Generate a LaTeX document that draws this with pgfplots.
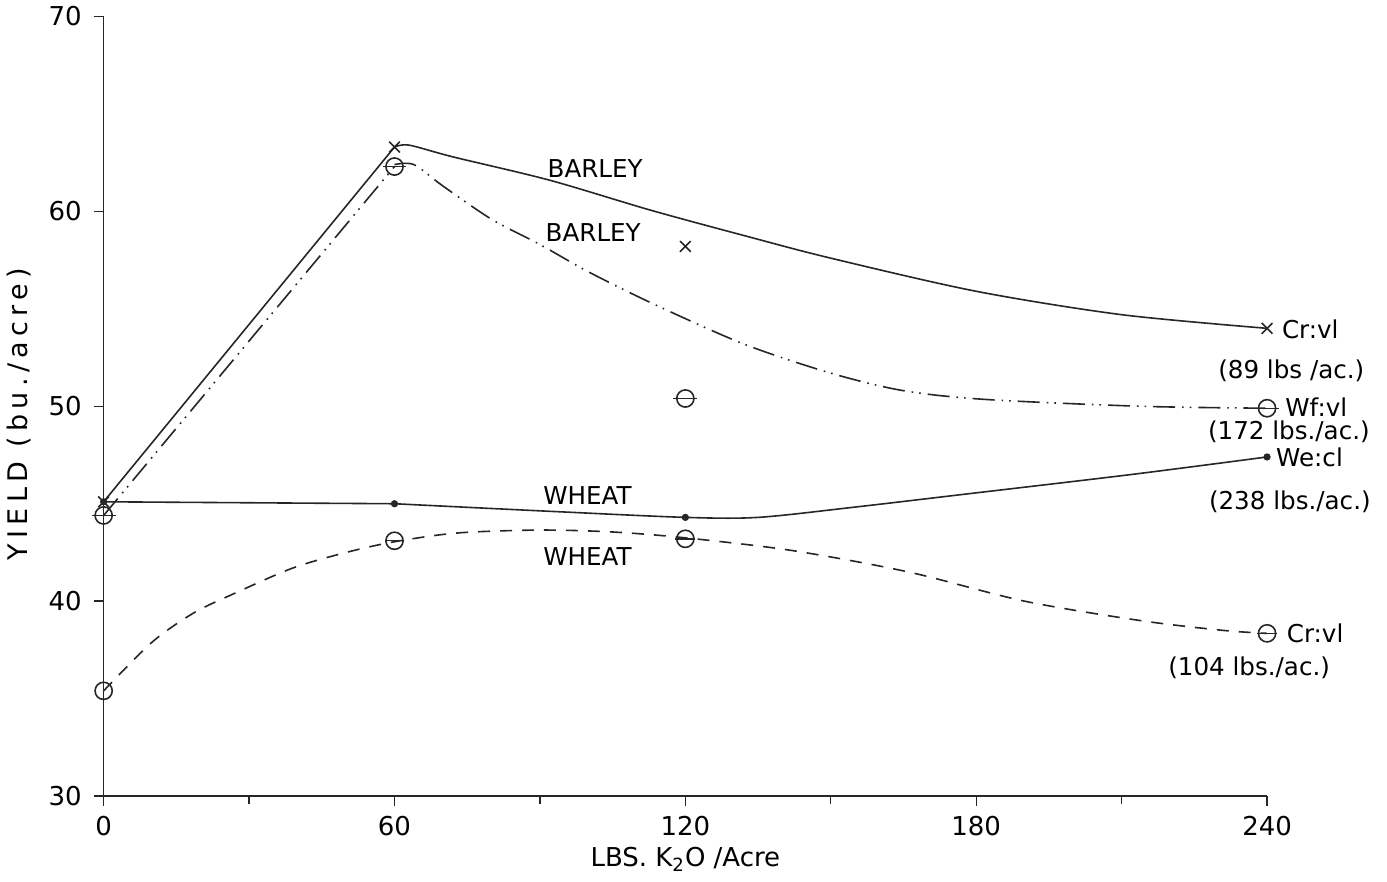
\documentclass[border=0pt]{standalone}
\usepackage{pgfplots}
\pgfplotsset{compat=1.18}
\usepackage{fontspec}
\setmainfont{DejaVu Sans}
\newcommand{\lbl}{\fontsize{12.3}{14}\selectfont}
\begin{document}
\begin{tikzpicture}
\begin{axis}[
  scale only axis, width=582pt, height=390pt,
  xmin=0, xmax=240, ymin=30, ymax=70,
  axis x line*=bottom, axis y line*=left,
  axis line style={black!85, line width=0.8pt},
  xtick={0,60,120,180,240}, minor xtick={30,90,150,210},
  ytick={30,40,50,60,70},
  tick align=outside, major tick length=5pt, minor tick length=4pt,
  every tick/.style={black!85, line width=0.7pt},
  every minor tick/.style={black!85, line width=0.7pt},
  /pgf/number format/assume math mode=true,
  every tick label/.append style={font=\fontsize{13}{15}\selectfont},
  xticklabel style={yshift=-1.5pt},
  yticklabel style={xshift=-2.5pt},
  xlabel={LBS. K\textsubscript{2}O /Acre},
  xlabel style={at={(rel axis cs:0.5,0)}, anchor=center, yshift=-31.5pt, font=\fontsize{13}{15}\selectfont},
  ylabel={\addfontfeatures{LetterSpace=20}YIELD (bu./acre)},
  ylabel style={at={(rel axis cs:0,0.49)}, anchor=center, xshift=0pt, yshift=42.5pt, font=\fontsize{13.5}{15}\selectfont},
  clip=false,
]
\coordinate (O) at (rel axis cs:0,0);
% ---- BARLEY Cr:vl (solid, x marks) ----
\addplot[black!85, line width=0.8pt] coordinates {(0,45.1) (60,63.3)};
\addplot[black!85, line width=0.8pt, smooth, tension=0.5] coordinates {
 (60,63.3) (63,63.4) (72,62.8) (92,61.6) (113,60.05) (133,58.7) (150,57.6) (180,55.9) (210,54.7) (240,54.0)};
\addplot[only marks, mark=x, mark size=3.8pt, black!85, mark options={line width=0.8pt}] coordinates {
 (0,45.1) (60,63.3) (120,58.2) (240,54.0)};
% ---- BARLEY Wf:vl (dash-dot-dot, circles) ----
\addplot[black!85, line width=0.8pt, dash pattern=on 11pt off 3.5pt on 0.8pt off 3pt on 0.8pt off 3.5pt] coordinates {(0,44.4) (60,62.3)};
\addplot[black!85, line width=0.8pt, smooth, tension=0.5, dash pattern=on 11pt off 3.5pt on 0.8pt off 3pt on 0.8pt off 3.5pt] coordinates {
 (60,62.4) (64,62.4) (70,61.3) (80,59.6) (90,58.3) (100,56.9) (113,55.3) (132,53.2) (150,51.7) (165,50.8) (182,50.35) (214,50.0) (240,49.9)};
\addplot[only marks, mark=o, mark size=4.3pt, black!85, mark options={line width=0.8pt}] coordinates {
 (0,44.4) (60,62.3) (120,50.4) (240,49.9)};
\addplot[only marks, mark=-, mark size=6pt, black!85, mark options={line width=0.7pt}] coordinates {
 (0,44.4) (60,62.3) (120,50.4) (240,49.9)};
% ---- WHEAT We:cl (solid, dots) ----
\addplot[black!85, line width=0.8pt] coordinates {(0,45.1) (60,45.0)};
\addplot[black!85, line width=0.8pt, smooth, tension=0.5] coordinates {
 (60,45.0) (93,44.6) (120,44.3) (135,44.3) (154,44.8) (178,45.5) (212,46.5) (240,47.4)};
\addplot[only marks, mark=*, mark size=1.6pt, black!85] coordinates {
 (0,45.1) (60,45.0) (120,44.3) (240,47.4)};
% ---- WHEAT Cr:vl (dashed, circles) ----
\addplot[black!85, line width=0.8pt, smooth, tension=0.5, dash pattern=on 6pt off 5pt] coordinates {
 (0,35.4) (10,37.9) (18.6,39.4) (27,40.4) (39,41.7) (50,42.5) (60,43.05) (73,43.5) (90,43.65) (105,43.55) (120,43.25) (142,42.6) (166,41.5) (190,40.0) (214,39.0) (231,38.5) (240,38.35)};
\addplot[only marks, mark=o, mark size=4.3pt, black!85, mark options={line width=0.8pt}] coordinates {
 (0,35.4) (60,43.1) (120,43.2) (240,38.35)};
\addplot[only marks, mark=-, mark size=5pt, black!85, mark options={line width=0.7pt}] coordinates {
 (60,43.1) (120,43.2) (240,38.35)};
% ---- labels ----
\tikzset{lb/.style={font=\lbl, inner sep=0pt}}
\node[lb] at (axis cs:101.4,62.2) {BARLEY};
\node[lb] at (axis cs:101,58.9) {BARLEY};
\node[lb] at (axis cs:99.8,45.4) {WHEAT};
\node[lb] at (axis cs:99.8,42.3) {WHEAT};
\node[lb, anchor=west] at (axis cs:243,53.95) {Cr:vl};
\node[lb] at (axis cs:245,51.8) {(89 lbs /ac.)};
\node[lb, anchor=west] at (axis cs:243.7,49.95) {Wf:vl};
\node[lb] at (axis cs:244.5,48.7) {(172 lbs./ac.)};
\node[lb, anchor=west] at (axis cs:241.8,47.4) {We:cl};
\node[lb] at (axis cs:244.7,45.1) {(238 lbs./ac.)};
\node[lb, anchor=west] at (axis cs:244,38.35) {Cr:vl};
\node[lb] at (axis cs:236.3,36.6) {(104 lbs./ac.)};
\end{axis}
\path (O) ++(-51.5pt,-42.5pt) rectangle ++(693.5pt,439.5pt);
\end{tikzpicture}
\end{document}
